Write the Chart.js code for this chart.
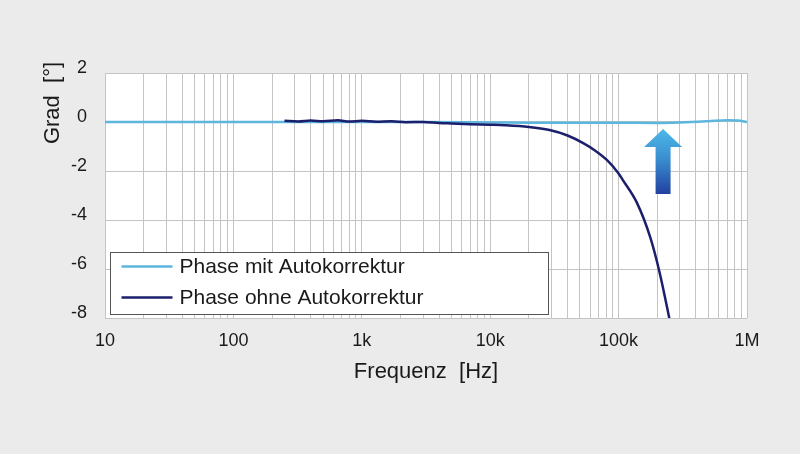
<!DOCTYPE html>
<html lang="de">
<head>
    <meta charset="UTF-8">
    <title>Phase mit / ohne Autokorrektur</title>
    <style>
        html, body { margin: 0; padding: 0; background: #ebebeb; }
        #chartContainer { width: 800px; height: 454px; position: relative; }
    </style>
</head>
<body>

<div id="chartContainer">
    <canvas id="phaseChart"></canvas>
</div>

<script src="https://cdn.jsdelivr.net/npm/chart.js"></script>
<script>
    // Values
    const decades = [10, 100, 1000, 10000, 100000, 1000000];
    const tickLabels = ['10', '100', '1k', '10k', '100k', '1M'];
    const yTicks = [2, 0, -2, -4, -6, -8];

    const freqMit = [10, 30, 100, 300, 1000, 3000, 10000, 20000, 50000, 100000, 200000, 300000, 500000, 700000, 850000, 1000000];
    const phaseMit = [0, 0, 0, 0, 0, 0, -0.02, -0.03, -0.03, -0.03, -0.04, -0.02, 0.03, 0.07, 0.06, 0];

    const freqOhne = [250, 320, 400, 500, 650, 800, 1000, 1300, 1700, 2200, 3000, 4000, 5000, 7000, 10000, 13000,
        20000, 29000, 40000, 53000, 65000, 81000, 100000, 108000, 139000, 176000, 209000, 255000];
    const phaseOhne = [0.05, 0.02, 0.06, 0.03, 0.07, 0.02, 0.05, 0.01, 0.03, -0.01, 0.0, -0.04, -0.06, -0.09, -0.11, -0.13,
        -0.2, -0.33, -0.55, -0.86, -1.15, -1.55, -2.1, -2.37, -3.3, -4.69, -6.16, -8.3];

    // the blue arrow (frequency, tip, head base, tail in degrees)
    const arrowFreq = 222000;
    const arrowTip = -0.29;
    const arrowHead = -1.02;
    const arrowTail = -2.94;

    const FONT = '"Liberation Sans", Arial, Helvetica, sans-serif';
    const COL_MIT = '#5cb6de';
    const COL_OHNE = '#1c1f6b';

    // grid lines at 1..9 of each decade
    const gridTicks = [];
    decades.forEach((d, i) => {
        if (i === decades.length - 1) { gridTicks.push(d); return; }
        for (let m = 1; m < 10; m++) gridTicks.push(d * m);
    });

    const plotBackground = {
        id: 'plotBackground',
        beforeDraw(chart) {
            const {ctx, chartArea: a} = chart;
            ctx.save();
            ctx.fillStyle = '#ffffff';
            ctx.fillRect(a.left, a.top, a.right - a.left, a.bottom - a.top);
            ctx.restore();
        }
    };

    const extras = {
        id: 'extras',
        afterDraw(chart) {
            const {ctx, chartArea: a, scales} = chart;
            ctx.save();

            // arrow
            const xc = scales.x.getPixelForValue(arrowFreq);
            const yTip = scales.y.getPixelForValue(arrowTip);
            const yHead = scales.y.getPixelForValue(arrowHead);
            const yTail = scales.y.getPixelForValue(arrowTail);
            const grad = ctx.createLinearGradient(0, yTip, 0, yTail);
            grad.addColorStop(0, '#4db8e8');
            grad.addColorStop(0.45, '#3a8fd0');
            grad.addColorStop(1, '#2141a0');
            ctx.fillStyle = grad;
            ctx.beginPath();
            ctx.moveTo(xc, yTip);
            ctx.lineTo(xc + 19, yHead);
            ctx.lineTo(xc + 7.5, yHead);
            ctx.lineTo(xc + 7.5, yTail);
            ctx.lineTo(xc - 7.5, yTail);
            ctx.lineTo(xc - 7.5, yHead);
            ctx.lineTo(xc - 19, yHead);
            ctx.closePath();
            ctx.fill();

            // legend box inside the plot
            const bx = a.left + 5.5, bw = 438, bh = 62;
            const by = a.bottom - 3.5 - bh;
            ctx.fillStyle = '#ffffff';
            ctx.fillRect(bx, by, bw, bh);
            ctx.strokeStyle = '#555555';
            ctx.lineWidth = 1;
            ctx.strokeRect(bx, by, bw, bh);
            ctx.font = '21px ' + FONT;
            ctx.textBaseline = 'middle';
            ctx.fillStyle = '#1a1a1a';
            chart.data.datasets.slice().sort((p, q) => p.legendIndex - q.legendIndex).forEach((ds, i) => {
                const ly = by + 14 + i * 31;
                ctx.strokeStyle = ds.borderColor;
                ctx.lineWidth = 2.5;
                ctx.beginPath();
                ctx.moveTo(bx + 11, ly);
                ctx.lineTo(bx + 62, ly);
                ctx.stroke();
                ctx.fillText(ds.label, bx + 69, ly + 1);
            });

            // y axis title
            ctx.translate(a.left - 52, a.top + 30);
            ctx.rotate(-Math.PI / 2);
            ctx.textAlign = 'center';
            ctx.font = '22px ' + FONT;
            ctx.fillText('Grad  [°]', 0, 0);
            ctx.restore();
        }
    };

    const ctx = document.getElementById('phaseChart').getContext('2d');
    new Chart(ctx, {
        type: 'line',
        data: {
            datasets: [{
                label: 'Phase ohne Autokorrektur',
                legendIndex: 1,
                data: freqOhne.map((f, i) => ({x: f, y: phaseOhne[i]})),
                borderColor: COL_OHNE,
                borderWidth: 2.5,
                pointRadius: 0,
                cubicInterpolationMode: 'monotone',
                fill: false
            }, {
                label: 'Phase mit Autokorrektur',
                legendIndex: 0,
                data: freqMit.map((f, i) => ({x: f, y: phaseMit[i]})),
                borderColor: COL_MIT,
                borderWidth: 2.5,
                pointRadius: 0,
                cubicInterpolationMode: 'monotone',
                fill: false
            }]
        },
        options: {
            responsive: true,
            maintainAspectRatio: false,
            animation: false,
            layout: { padding: { left: 0, right: 53, top: 73, bottom: 66 } },
            plugins: {
                legend: { display: false },
                tooltip: { enabled: false }
            },
            scales: {
                x: {
                    type: 'logarithmic',
                    min: 10,
                    max: 1000000,
                    afterBuildTicks: scale => { scale.ticks = gridTicks.map(v => ({value: v})); },
                    afterFit: scale => { scale.height = 70; },
                    border: { display: false },
                    grid: { color: '#c4c4c4', lineWidth: 1, drawTicks: false },
                    ticks: {
                        autoSkip: false,
                        maxRotation: 0,
                        padding: 12,
                        color: '#1a1a1a',
                        font: { family: FONT, size: 18 },
                        callback: value => {
                            const i = decades.indexOf(value);
                            return i >= 0 ? tickLabels[i] : '';
                        }
                    },
                    title: {
                        display: true,
                        text: 'Frequenz  [Hz]',
                        color: '#1a1a1a',
                        font: { family: FONT, size: 22 },
                        padding: { top: 0, bottom: 3 }
                    }
                },
                y: {
                    min: -8,
                    max: 2,
                    afterBuildTicks: scale => { scale.ticks = yTicks.map(v => ({value: v})); },
                    afterFit: scale => { scale.width = 105; },
                    border: { display: false },
                    grid: { color: '#c4c4c4', lineWidth: 1, drawTicks: false },
                    ticks: {
                        padding: 18,
                        color: '#1a1a1a',
                        font: { family: FONT, size: 18, lineHeight: 0.5 },
                        // empty second line lifts the label a little above its grid line
                        callback: value => [String(value), '']
                    }
                }
            }
        },
        plugins: [plotBackground, extras]
    });
</script>

</body>
</html>
